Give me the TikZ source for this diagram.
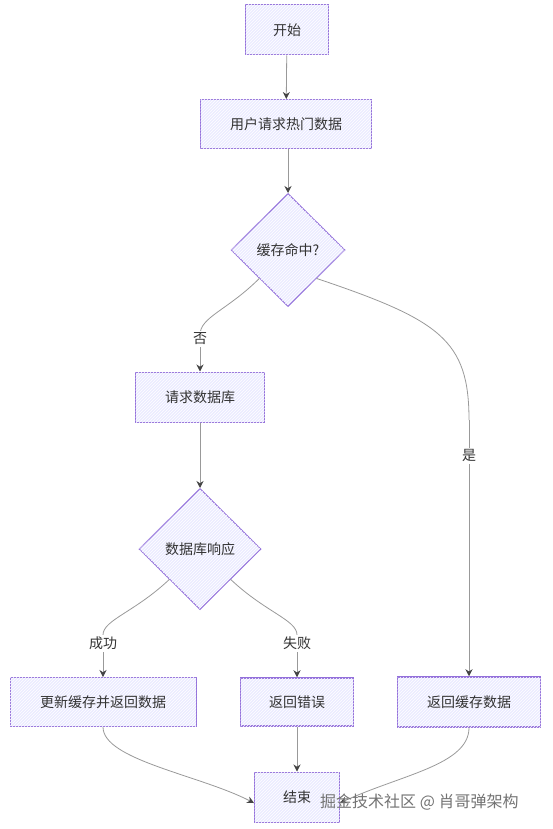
\documentclass[tikz,border=0pt]{standalone}
\usepackage{fontspec}
\setmainfont{Noto Sans CJK SC}
\usetikzlibrary{shapes.geometric,arrows.meta,patterns}
\definecolor{nodefill}{HTML}{ECECFF}
\definecolor{nodeline}{HTML}{9370DB}
\definecolor{edgeline}{HTML}{999999}
\definecolor{tipcol}{HTML}{444444}
\definecolor{txt}{HTML}{333333}
\tikzset{
  base/.style={draw=nodeline, line width=1pt, fill=nodefill, text=txt,
    font=\fontsize{14}{16}\selectfont, inner sep=0pt,
    postaction={pattern=north east lines, pattern color=white}},
  box/.style={base, rectangle},
  dia/.style={base, diamond, aspect=1},
  plain/.style={draw=edgeline, line width=0.8pt},
  conn/.style={plain, -{Stealth[length=7pt,width=7pt,color=tipcol]}},
  lbl/.style={fill=white, text=txt, font=\fontsize{14}{16}\selectfont, inner sep=2pt}
}
\begin{document}
\begin{tikzpicture}[x=1pt,y=-1pt]
\useasboundingbox (0,0) rectangle (552,829);
\node[box, minimum width=83pt, minimum height=50pt] (start) at (287,30) {开始};
\node[box, minimum width=171pt, minimum height=49pt] (user) at (286,124) {用户请求热门数据};
\node[dia, minimum width=114pt, minimum height=113pt] (hit) at (288,250) {缓存命中?};
\node[box, minimum width=129pt, minimum height=50pt] (req) at (200,397) {请求数据库};
\node[dia, minimum width=122pt, minimum height=121pt] (resp) at (200,549) {数据库响应};
\node[box, minimum width=186pt, minimum height=49pt] (upd) at (103,702) {更新缓存并返回数据};
\node[box, line width=1.5pt, minimum width=113pt, minimum height=48pt] (err) at (297,702) {返回错误};
\node[box, line width=1.5pt, minimum width=143pt, minimum height=50pt] (cache) at (469,702) {返回缓存数据};
\node[box, minimum width=85pt, minimum height=50pt] (end) at (297,797) {结束};
\coordinate (yesmid) at (469,420);
\coordinate (nomid) at (200,335);
\coordinate (okmid) at (103,635);
\coordinate (failmid) at (297,635);

\draw[conn] (start) -- (user);
\draw[conn] (user.south -| hit.north) -- (hit.north);
\draw[plain] (hit.south west) .. controls +(-32,32) and +(0,-18) .. (nomid);
\draw[conn] (nomid) -- node[lbl, pos=0.1] {否} (req.north);
\draw[plain] (hit.south east) .. controls (440,320) and (469,340) .. (yesmid);
\draw[conn] (yesmid) -- node[lbl, pos=0.14] {是} (cache.north);
\draw[conn] (req) -- (resp);
\draw[plain] (resp.south west) .. controls +(-35,33) and +(0,-15) .. (okmid);
\draw[conn] (okmid) -- node[lbl, pos=0.2] {成功} (upd.north);
\draw[plain] (resp.south east) .. controls +(35,33) and +(0,-15) .. (failmid);
\draw[conn] (failmid) -- node[lbl, pos=0.2] {失败} (err.north);
\draw[conn] (upd.south) .. controls (103,760) and (200,775) .. ([yshift=-6pt]end.west);
\draw[conn] (err) -- (end);
\draw[conn] (cache.south) .. controls (469,765) and (400,775) .. ([yshift=-6pt]end.east);

\node[text=black!55, font=\fontsize{16}{18}\selectfont, anchor=west, inner sep=0pt] (wm) at (320,802) {掘金技术社区 @ 肖哥弹架构};
\end{tikzpicture}
\end{document}
